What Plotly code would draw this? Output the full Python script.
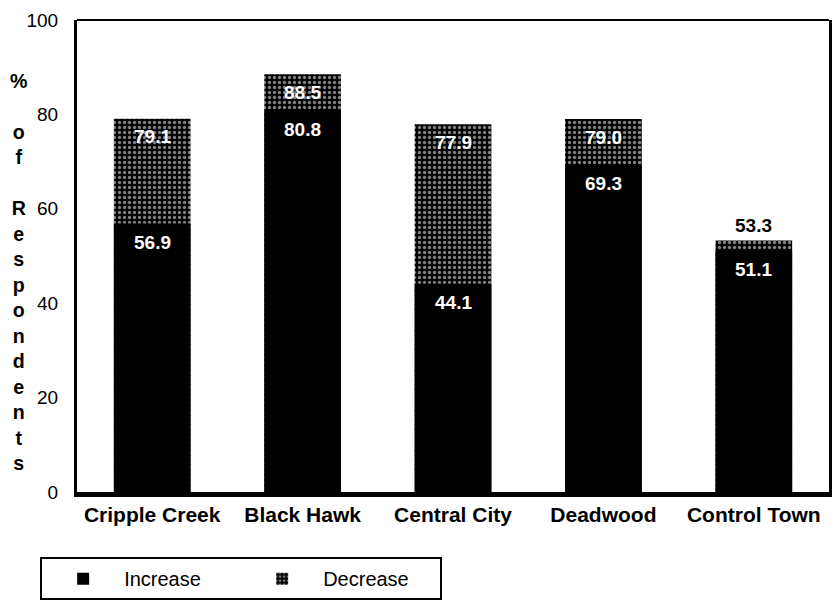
import plotly.graph_objects as go

# Share of respondents reporting an increase / decrease, by town
towns = ["Cripple Creek", "Black Hawk", "Central City", "Deadwood", "Control Town"]
increase = [56.9, 80.8, 44.1, 69.3, 51.1]
decrease = [79.1, 88.5, 77.9, 79.0, 53.3]
y_ticks = [0, 20, 40, 60, 80, 100]

FONT = "Liberation Sans, Arial, Helvetica, sans-serif"

fig = go.Figure()

# Decrease bars (stippled) sit behind; Increase bars (solid) overlay them
fig.add_trace(go.Bar(
    x=towns, y=decrease, name="Decrease", width=0.51,
    marker=dict(color="black", line=dict(width=0),
                pattern=dict(shape=".", fgcolor="white", bgcolor="black",
                             size=5, solidity=0.35)),
))
fig.add_trace(go.Bar(
    x=towns, y=increase, name="Increase", width=0.51,
    marker=dict(color="black", line=dict(width=0)),
))

# Value labels
annotations = []
for t, inc, dec in zip(towns, increase, decrease):
    annotations.append(dict(x=t, y=inc, xref="x", yref="y", text=f"{inc:.1f}",
                            showarrow=False, yanchor="middle", yshift=-19,
                            font=dict(family=FONT, size=19, color="white", weight="bold")))
    if dec - inc < 5:
        annotations.append(dict(x=t, y=dec, xref="x", yref="y", text=f"{dec:.1f}",
                                showarrow=False, yanchor="bottom", yshift=2,
                                font=dict(family=FONT, size=19, color="black", weight="bold")))
    else:
        annotations.append(dict(x=t, y=dec, xref="x", yref="y", text=f"{dec:.1f}",
                                showarrow=False, yanchor="middle", yshift=-18,
                                font=dict(family=FONT, size=19, color="white", weight="bold")))

# Vertical, letter-stacked y-axis title
title_lines = ["%", "", "o", "f", "", "R", "e", "s", "p", "o", "n", "d", "e", "n", "t", "s"]
annotations.append(dict(
    x=-0.078, y=0.467, xref="paper", yref="paper", xanchor="center", yanchor="middle",
    text="<br>".join(title_lines), showarrow=False, align="center",
    font=dict(family=FONT, size=19.6, color="black", weight="bold"),
))

fig.update_layout(
    width=838, height=608,
    margin=dict(l=77, r=6, t=20, b=116),
    paper_bgcolor="white", plot_bgcolor="white",
    barmode="overlay",
    font=dict(family=FONT, color="black"),
    showlegend=True,
    legend=dict(
        orientation="h", traceorder="reversed",
        x=-0.049, y=-0.138, xanchor="left", yanchor="top",
        bordercolor="black", borderwidth=2, bgcolor="white",
        font=dict(family=FONT, size=20, color="black"),
        entrywidth=112, entrywidthmode="pixels", itemwidth=72,
    ),
    xaxis=dict(
        type="category", range=[-0.5, 4.5],
        showline=True, linecolor="black", linewidth=5,
        ticks="", showgrid=False, zeroline=False,
        tickfont=dict(family=FONT, size=21, color="black", weight="bold"),
        ticklabelstandoff=0,
    ),
    yaxis=dict(
        range=[0, 100], tickvals=y_ticks,
        showline=True, linecolor="black", linewidth=3, mirror=True,
        ticks="", showgrid=False, zeroline=False,
        tickfont=dict(family=FONT, size=19, color="black"),
        ticklabelstandoff=12,
    ),
    shapes=[dict(type="line", xref="paper", yref="paper", x0=0, x1=1, y0=1, y1=1,
                 line=dict(color="black", width=2))],
    annotations=annotations,
)

fig.write_html("out.html")
